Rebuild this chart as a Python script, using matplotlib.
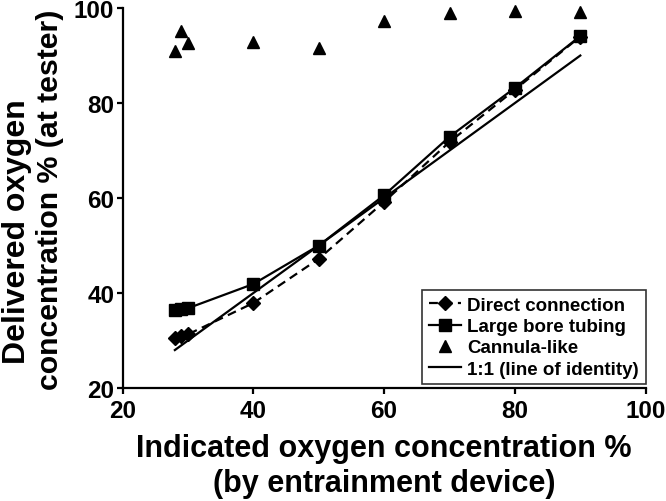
import matplotlib
matplotlib.use("Agg")
import matplotlib.pyplot as plt

plt.rcParams['font.family'] = ['Liberation Sans', 'DejaVu Sans']
plt.rcParams['font.weight'] = 'bold'

indicated = [28, 29, 30, 40, 50, 60, 70, 80, 90]
direct = [30.6, 31.0, 31.3, 37.9, 47.2, 59.2, 71.8, 82.8, 94.0]
large_bore = [36.5, 36.7, 36.8, 41.9, 50.0, 60.6, 72.9, 83.2, 94.1]
cannula = [90.9, 95.2, 92.7, 92.9, 91.5, 97.3, 98.9, 99.3, 99.2]
identity_x = [28, 90]
identity_y = [28, 90]
ticks = [20, 40, 60, 80, 100]

fig = plt.figure(figsize=(6.66, 5.02), dpi=100)
ax = fig.add_axes([0.184, 0.225, 0.7855, 0.757])

ax.plot(indicated, direct, linestyle=(0, (4, 2.5)), color='black', lw=1.6,
        marker='D', ms=7.5, label='Direct connection', clip_on=False)
ax.plot(indicated, large_bore, linestyle='-', color='black', lw=1.6,
        marker='s', ms=8, label='Large bore tubing', clip_on=False)
ax.plot(indicated, cannula, linestyle='none', color='black',
        marker='^', ms=9, label='Cannula-like', clip_on=False)
ax.plot(identity_x, identity_y, linestyle='-', color='black', lw=1.6,
        label='1:1 (line of identity)')

ax.set_xlim(20, 100)
ax.set_ylim(20, 100)
ax.set_xticks(ticks)
ax.set_yticks(ticks)
for s in ['top', 'right']:
    ax.spines[s].set_visible(False)
for s in ['left', 'bottom']:
    ax.spines[s].set_linewidth(1.6)
ax.tick_params(direction='out', length=4, width=1.6)
ax.tick_params(axis='x', pad=4)
ax.tick_params(axis='y', pad=2)
for lab in ax.get_xticklabels() + ax.get_yticklabels():
    lab.set_fontweight('bold')
    lab.set_fontsize(17.5)

W, H = 666, 502
def fx(px):
    return px / W
def fy(py):
    return 1 - py / H

fig.text(fx(384), fy(449), 'Indicated oxygen concentration %', ha='center', va='center',
         fontsize=22, fontweight='bold')
fig.text(fx(384), fy(484), '(by entrainment device)', ha='center', va='center',
         fontsize=22, fontweight='bold')
fig.text(fx(17), fy(232), 'Delivered oxygen', ha='center', va='center', rotation=90,
         fontsize=23, fontweight='bold')
fig.text(fx(50), fy(200), 'concentration % (at tester)', ha='center', va='center', rotation=90,
         fontsize=21.8, fontweight='bold')

leg = ax.legend(loc='lower right', bbox_to_anchor=(1.0, 0.01), fontsize=13.5,
                frameon=True, fancybox=False, edgecolor='black',
                handlelength=1.7, handletextpad=0.35, borderpad=0.35,
                borderaxespad=0.0, labelspacing=0.22)
leg.get_frame().set_linewidth(1.2)
for t in leg.get_texts():
    t.set_fontweight('bold')

fig.savefig('out.png', dpi=100)
